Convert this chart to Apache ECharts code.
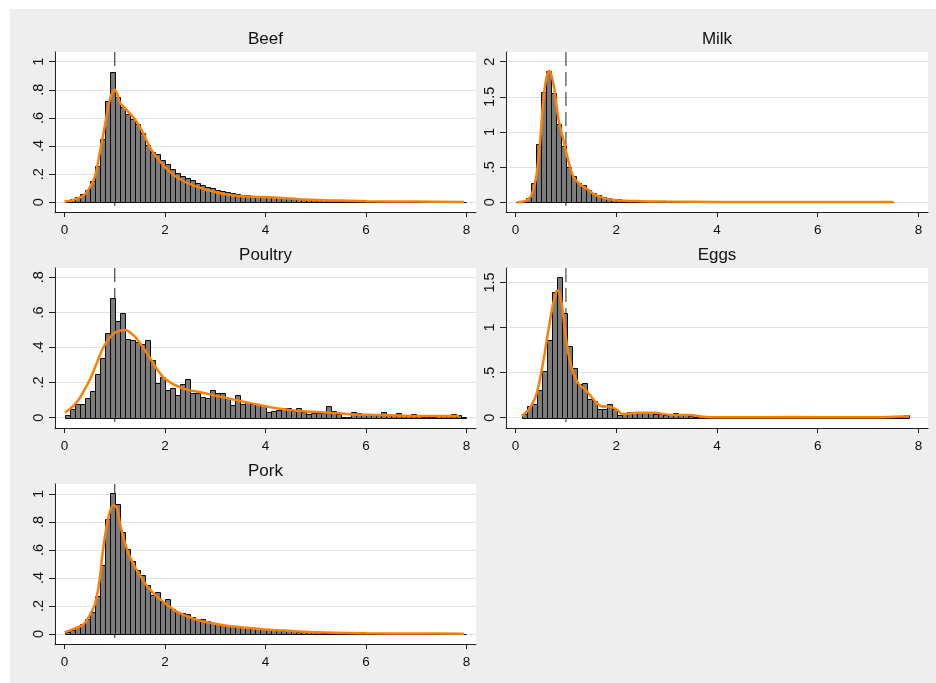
<!DOCTYPE html>
<html>
<head>
<meta charset="utf-8">
<script src="https://cdn.jsdelivr.net/npm/echarts@6.0.0/dist/echarts.min.js"></script>
<style>
html, body { margin: 0; padding: 0; background: #fff; }
#bg { position: absolute; left: 10px; top: 9px; width: 926px; height: 674px; background: #eeeeee; }
#chart { position: absolute; left: 0; top: 0; width: 936px; height: 683px; }
</style>
</head>
<body>
<div id="bg"></div>
<div id="chart"></div>
<script>
// ---- data ----
const titles = ['Beef', 'Milk', 'Poultry', 'Eggs', 'Pork'];
const xTicks = [0, 2, 4, 6, 8];
const binWidth = 0.1;

const beefStart = 0;
const beefHeights = [
  0.01, 0.02, 0.04, 0.06, 0.09, 0.15, 0.26, 0.45, 0.72, 0.93,
  0.75, 0.68, 0.63, 0.59, 0.56, 0.49, 0.41, 0.36, 0.34, 0.30,
  0.27, 0.24, 0.21, 0.19, 0.17, 0.16, 0.14, 0.12, 0.11, 0.10,
  0.09, 0.08, 0.075, 0.065, 0.06, 0.055, 0.05, 0.045, 0.045, 0.04,
  0.04, 0.038, 0.035, 0.033, 0.03, 0.028, 0.026, 0.024, 0.022, 0.02,
  0.019, 0.018, 0.016, 0.015, 0.014, 0.013, 0.012, 0.011, 0.01, 0.01,
  0.009, 0.008, 0.008, 0.007, 0.007, 0.006, 0.006, 0.005, 0.005, 0.005,
  0.004, 0.004, 0.004, 0.003, 0.003, 0.003, 0.003, 0.002, 0.002, 0.002
];
const beefDensity = [
  [0, 0.005], [0.18, 0.017], [0.38, 0.05], [0.51, 0.11], [0.61, 0.19], [0.71, 0.37],
  [0.81, 0.56], [0.9, 0.73], [1.0, 0.80], [1.05, 0.77], [1.1, 0.71], [1.2, 0.67],
  [1.4, 0.59], [1.57, 0.49], [1.67, 0.41], [1.77, 0.35], [2.0, 0.25], [2.23, 0.18],
  [2.56, 0.12], [3.1, 0.064], [3.42, 0.047], [3.75, 0.04], [4.2, 0.035], [4.8, 0.02],
  [5.5, 0.012], [6, 0.008], [7, 0.005], [7.95, 0.003]
];
const beefTicks = [0, 0.2, 0.4, 0.6, 0.8, 1];

const milkStart = 0;
const milkHeights = [
  0.002, 0.01, 0.06, 0.28, 0.83, 1.57, 1.87, 1.56, 1.12, 0.80,
  0.50, 0.37, 0.28, 0.24, 0.18, 0.13, 0.11, 0.08, 0.06, 0.05,
  0.04, 0.035, 0.03, 0.028, 0.025, 0.022, 0.02, 0.018, 0.016, 0.015,
  0.014, 0.013, 0.012, 0.011, 0.01, 0.01, 0.009, 0.009, 0.008, 0.008,
  0.007, 0.007, 0.007, 0.006, 0.006, 0.006, 0.006, 0.005, 0.005, 0.005,
  0.005, 0.005, 0.005, 0.004, 0.004, 0.004, 0.004, 0.004, 0.004, 0.004,
  0.004, 0.004, 0.003, 0.003, 0.003, 0.003, 0.003, 0.003, 0.003, 0.003,
  0.003, 0.003, 0.003, 0.003, 0.003
];
const milkDensity = [
  [0.03, 0], [0.2, 0.02], [0.3, 0.08], [0.36, 0.2], [0.42, 0.41], [0.49, 0.89],
  [0.55, 1.45], [0.62, 1.8], [0.67, 1.87], [0.75, 1.69], [0.85, 1.19], [0.95, 0.89],
  [1.02, 0.67], [1.15, 0.36], [1.29, 0.25], [1.4, 0.2], [1.55, 0.12], [1.75, 0.06],
  [2.0, 0.03], [2.5, 0.015], [3, 0.01], [4, 0.006], [5, 0.005], [6, 0.004],
  [7, 0.004], [7.5, 0.004]
];
const milkTicks = [0, 0.5, 1, 1.5, 2];

const poultryStart = 0;
const poultryHeights = [
  0.015, 0.05, 0.076, 0.08, 0.11, 0.15, 0.25, 0.34, 0.48, 0.68,
  0.55, 0.595, 0.45, 0.44, 0.43, 0.42, 0.44, 0.33, 0.20, 0.23,
  0.16, 0.17, 0.13, 0.19, 0.22, 0.14, 0.14, 0.12, 0.11, 0.16,
  0.14, 0.14, 0.11, 0.074, 0.13, 0.075, 0.09, 0.08, 0.08, 0.068,
  0.034, 0.038, 0.044, 0.057, 0.057, 0.04, 0.057, 0.034, 0.02, 0.028,
  0.028, 0.025, 0.067, 0.038, 0.02, 0.006, 0.006, 0.03, 0.025, 0.02,
  0.02, 0.015, 0.015, 0.03, 0.02, 0.015, 0.025, 0.015, 0.01, 0.02,
  0.01, 0.006, 0.006, 0.006, 0.015, 0.015, 0.015, 0.02, 0.015, 0.006
];
const poultryDensity = [
  [0.01, 0.03], [0.11, 0.05], [0.25, 0.09], [0.38, 0.15], [0.51, 0.22], [0.64, 0.31],
  [0.77, 0.40], [0.91, 0.46], [1.04, 0.49], [1.2, 0.50], [1.37, 0.47], [1.54, 0.41],
  [1.7, 0.34], [1.83, 0.28], [1.97, 0.23], [2.17, 0.19], [2.43, 0.16], [2.7, 0.145],
  [3.09, 0.12], [3.42, 0.10], [3.75, 0.08], [4.09, 0.06], [4.61, 0.04], [5.28, 0.028],
  [5.68, 0.02], [6.27, 0.015], [6.93, 0.01], [7.86, 0.01]
];
const poultryTicks = [0, 0.2, 0.4, 0.6, 0.8];

const eggsStart = 0.12;
const eggsHeights = [
  0.04, 0.13, 0.15, 0.31, 0.52, 0.86, 1.39, 1.56, 1.16, 0.79,
  0.55, 0.37, 0.39, 0.21, 0.18, 0.10, 0.10, 0.15, 0.10, 0.03,
  0.055, 0.066, 0.066, 0.066, 0.055, 0.048, 0.04, 0.04, 0.03, 0.04,
  0.055, 0.04, 0.03, 0.02, 0.01, 0.02, 0.01, 0.01, 0.01, 0.01,
  0.02, 0.005, 0.01, 0.005, 0.005, 0.01, 0.005, 0.005, 0.005, 0.01,
  0.02, 0.005, 0.005, 0.005, 0.01, 0.005, 0.005, 0.005, 0.005, 0.005,
  0.005, 0.005, 0.01, 0.005, 0.005, 0.005, 0.005, 0.005, 0.005, 0.005,
  0.005, 0.005, 0.005, 0.005, 0.005, 0.005, 0.03
];
const eggsDensity = [
  [0.12, 0.02], [0.22, 0.066], [0.32, 0.14], [0.42, 0.27], [0.52, 0.53], [0.62, 0.86],
  [0.72, 1.19], [0.81, 1.40], [0.85, 1.41], [0.92, 1.25], [0.99, 0.92], [1.05, 0.71],
  [1.15, 0.49], [1.25, 0.38], [1.42, 0.29], [1.55, 0.20], [1.69, 0.13], [1.89, 0.12],
  [2.02, 0.085], [2.12, 0.04], [2.42, 0.055], [2.75, 0.055], [3.09, 0.03], [3.42, 0.03],
  [3.89, 0.005], [4.5, 0.005], [5.5, 0.008], [6.5, 0.005], [7.3, 0.006], [7.82, 0.015]
];
const eggsTicks = [0, 0.5, 1, 1.5];

const porkStart = 0;
const porkHeights = [
  0.017, 0.03, 0.05, 0.07, 0.11, 0.16, 0.27, 0.49, 0.82, 1.005,
  0.93, 0.73, 0.61, 0.52, 0.46, 0.42, 0.35, 0.28, 0.30, 0.23,
  0.25, 0.18, 0.16, 0.15, 0.14, 0.12, 0.11, 0.11, 0.09, 0.076,
  0.07, 0.065, 0.057, 0.057, 0.06, 0.052, 0.045, 0.04, 0.036, 0.033,
  0.03, 0.028, 0.027, 0.025, 0.023, 0.02, 0.018, 0.016, 0.015, 0.013,
  0.012, 0.011, 0.01, 0.01, 0.009, 0.008, 0.008, 0.007, 0.007, 0.006,
  0.006, 0.005, 0.005, 0.005, 0.004, 0.004, 0.004, 0.004, 0.003, 0.003,
  0.003, 0.003, 0.003, 0.002, 0.002, 0.002, 0.002, 0.002, 0.002, 0.002
];
const porkDensity = [
  [0, 0.012], [0.21, 0.04], [0.38, 0.07], [0.51, 0.14], [0.61, 0.22], [0.69, 0.37],
  [0.77, 0.61], [0.87, 0.83], [0.97, 0.92], [1.04, 0.90], [1.11, 0.78], [1.21, 0.64],
  [1.34, 0.52], [1.5, 0.42], [1.67, 0.33], [1.83, 0.27], [2.0, 0.22], [2.23, 0.16],
  [2.56, 0.11], [2.89, 0.08], [3.23, 0.06], [3.62, 0.045], [4.09, 0.03], [4.5, 0.022],
  [5, 0.012], [6, 0.006], [7, 0.004], [7.95, 0.003]
];
const porkTicks = [0, 0.2, 0.4, 0.6, 0.8, 1];

const refLine = 1;

// ---- layout ----
const FONT = '"Liberation Sans", Arial, sans-serif';
const colLeft = [55, 506];
const colWidth = [421, 422];
const rowTop = [52, 268, 484];
const plotH = 160;

const panels = [
  { start: beefStart, heights: beefHeights, density: beefDensity, ticks: beefTicks, yMin: -0.069, yMax: 1.069, col: 0, row: 0 },
  { start: milkStart, heights: milkHeights, density: milkDensity, ticks: milkTicks, yMin: -0.138, yMax: 2.138, col: 1, row: 0 },
  { start: poultryStart, heights: poultryHeights, density: poultryDensity, ticks: poultryTicks, yMin: -0.059, yMax: 0.853, col: 0, row: 1 },
  { start: eggsStart, heights: eggsHeights, density: eggsDensity, ticks: eggsTicks, yMin: -0.114, yMax: 1.660, col: 1, row: 1 },
  { start: porkStart, heights: porkHeights, density: porkDensity, ticks: porkTicks, yMin: -0.071, yMax: 1.071, col: 0, row: 2 }
];

const fmt = v => v === 0 ? '0' : String(+v.toFixed(2)).replace(/^0\./, '.');

const grid = [], xAxis = [], yAxis = [], series = [], graphic = [];

panels.forEach((p, k) => {
  const left = colLeft[p.col], top = rowTop[p.row], width = colWidth[p.col];
  grid.push({ left: left, top: top, width: width, height: plotH, show: true, backgroundColor: '#fff', borderWidth: 0 });
  xAxis.push({
    gridIndex: k, type: 'value', min: -0.19, max: 8.19,
    axisLine: { show: true, onZero: false, lineStyle: { color: '#222', width: 1 } },
    axisTick: { show: true, length: 5, customValues: xTicks, lineStyle: { color: '#222' } },
    axisLabel: { customValues: xTicks, margin: 11, color: '#111', fontSize: 13.5, fontFamily: FONT },
    splitLine: { show: false }
  });
  yAxis.push({
    gridIndex: k, type: 'value', min: p.yMin, max: p.yMax,
    axisLine: { show: true, onZero: false, lineStyle: { color: '#222', width: 1 } },
    axisTick: { show: true, length: 6, customValues: p.ticks, lineStyle: { color: '#222' } },
    axisLabel: { customValues: p.ticks, rotate: 90, margin: 9, color: '#111', fontSize: 14.5, fontFamily: FONT, formatter: fmt },
    splitLine: { show: true, lineStyle: { color: '#e3e3e3', width: 1 } }
  });

  // reference line at x = 1
  series.push({
    type: 'line', xAxisIndex: k, yAxisIndex: k, z: 1, silent: true, symbol: 'none',
    data: [[refLine, p.yMax], [refLine, p.yMin]],
    lineStyle: { color: '#222', width: 1, type: [14, 6] }
  });

  // histogram
  const bins = p.heights.map((h, i) => [p.start + i * binWidth, p.start + (i + 1) * binWidth, h]);
  series.push({
    type: 'custom', xAxisIndex: k, yAxisIndex: k, z: 2, silent: true,
    data: bins,
    encode: { x: [0, 1], y: 2 },
    renderItem: function (params, api) {
      const a = api.coord([api.value(0), 0]);
      const b = api.coord([api.value(1), api.value(2)]);
      const x0 = Math.round(a[0]) + 0.5, x1 = Math.round(b[0]) + 0.5;
      const y0 = Math.round(a[1]) + 0.5, y1 = Math.round(b[1]) + 0.5;
      return {
        type: 'rect',
        shape: { x: x0, y: Math.min(y0, y1), width: x1 - x0, height: Math.abs(y0 - y1) },
        style: { fill: '#7c7c7c', stroke: '#0a0a0a', lineWidth: 1 }
      };
    }
  });

  // kernel density
  series.push({
    type: 'line', xAxisIndex: k, yAxisIndex: k, z: 3, silent: true, symbol: 'none',
    smooth: 0.35, data: p.density,
    lineStyle: { color: '#ff7f00', width: 2.5 }
  });

  graphic.push({
    type: 'text', x: left + width / 2, y: top - 13, z: 10,
    style: { text: titles[k], fill: '#111', font: '17px ' + FONT, align: 'center', verticalAlign: 'middle', textAlign: 'center', textVerticalAlign: 'middle' }
  });
});

const chart = echarts.init(document.getElementById('chart'), null, { renderer: 'canvas' });
chart.setOption({
  backgroundColor: 'transparent',
  animation: false,
  grid: grid,
  xAxis: xAxis,
  yAxis: yAxis,
  series: series,
  graphic: graphic
});
</script>
</body>
</html>
